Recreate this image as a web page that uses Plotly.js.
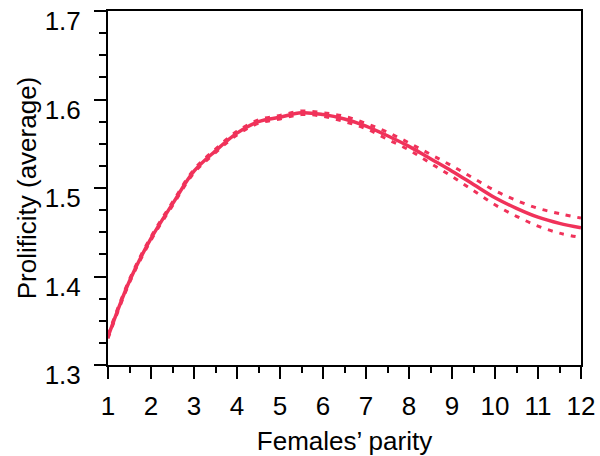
<!DOCTYPE html>
<html>
<head>
<meta charset="utf-8">
<script src="https://cdn.plot.ly/plotly-3.0.1.min.js"></script>
<style>html,body{margin:0;padding:0;background:#fff;}#chart{width:600px;height:456px;}</style>
</head>
<body>
<div id="chart"></div>
<script>
var parity = [1.0,1.5,2.0,2.5,3.0,3.5,4.0,4.5,5.0,5.5,6.0,6.5,7.0,7.5,8.0,8.5,9.0,9.5,10.0,10.5,11.0,11.5,12.0];
var prolificity = [1.332,1.395,1.443,1.482,1.519,1.542,1.562,1.575,1.580,1.585,1.583,1.578,1.570,1.559,1.547,1.533,1.519,1.504,1.489,1.477,1.467,1.460,1.455];
var upperCI = [1.334,1.397,1.445,1.484,1.521,1.544,1.564,1.577,1.582,1.587,1.585,1.581,1.573,1.563,1.551,1.538,1.525,1.511,1.497,1.486,1.477,1.471,1.466];
var lowerCI = [1.330,1.393,1.441,1.480,1.517,1.540,1.560,1.573,1.578,1.583,1.581,1.575,1.567,1.555,1.543,1.528,1.513,1.497,1.481,1.468,1.457,1.449,1.444];
var xTitle = 'Females\u2019 parity';
var yTitle = 'Prolificity (average)';

var col = '#F0325A';
var traces = [
  {x: parity, y: upperCI, mode: 'lines', line: {color: col, width: 3, dash: '5px,7px', shape: 'spline'}, hoverinfo: 'skip'},
  {x: parity, y: lowerCI, mode: 'lines', line: {color: col, width: 3, dash: '5px,7px', shape: 'spline'}, hoverinfo: 'skip'},
  {x: parity, y: prolificity, mode: 'lines', line: {color: col, width: 3.5, shape: 'spline'}}
];
var fnt = {family: 'Liberation Sans, Arial, sans-serif', size: 26, color: '#000'};
var layout = {
  width: 600, height: 456,
  margin: {l: 108, r: 19, t: 11, b: 91},
  showlegend: false,
  paper_bgcolor: '#fff', plot_bgcolor: '#fff',
  font: fnt,
  xaxis: {
    range: [1, 12], tickmode: 'linear', tick0: 1, dtick: 1,
    showgrid: false, zeroline: false, showline: true, linecolor: '#000', linewidth: 2, mirror: true,
    ticks: 'outside', ticklen: 12, tickwidth: 2, tickcolor: '#000', ticklabelstandoff: 5,
    minor: {dtick: 0.5, ticks: 'outside', ticklen: 6, tickwidth: 2, tickcolor: '#000', showgrid: false},
    tickfont: fnt,
    title: {text: xTitle, font: fnt, standoff: 13}
  },
  yaxis: {
    range: [1.3, 1.7], tickmode: 'linear', tick0: 1.3, dtick: 0.1, tickformat: '.1f',
    showgrid: false, zeroline: false, showline: true, linecolor: '#000', linewidth: 2, mirror: true,
    ticks: 'outside', ticklen: 12, tickwidth: 2, tickcolor: '#000', ticklabelstandoff: 8, ticklabelshift: 10,
    minor: {dtick: 0.025, ticks: 'outside', ticklen: 7, tickwidth: 2, tickcolor: '#000', showgrid: false},
    tickfont: fnt,
    title: {text: yTitle, font: fnt, standoff: 1}
  }
};
Plotly.newPlot('chart', traces, layout, {staticPlot: true, displayModeBar: false});
</script>
</body>
</html>
